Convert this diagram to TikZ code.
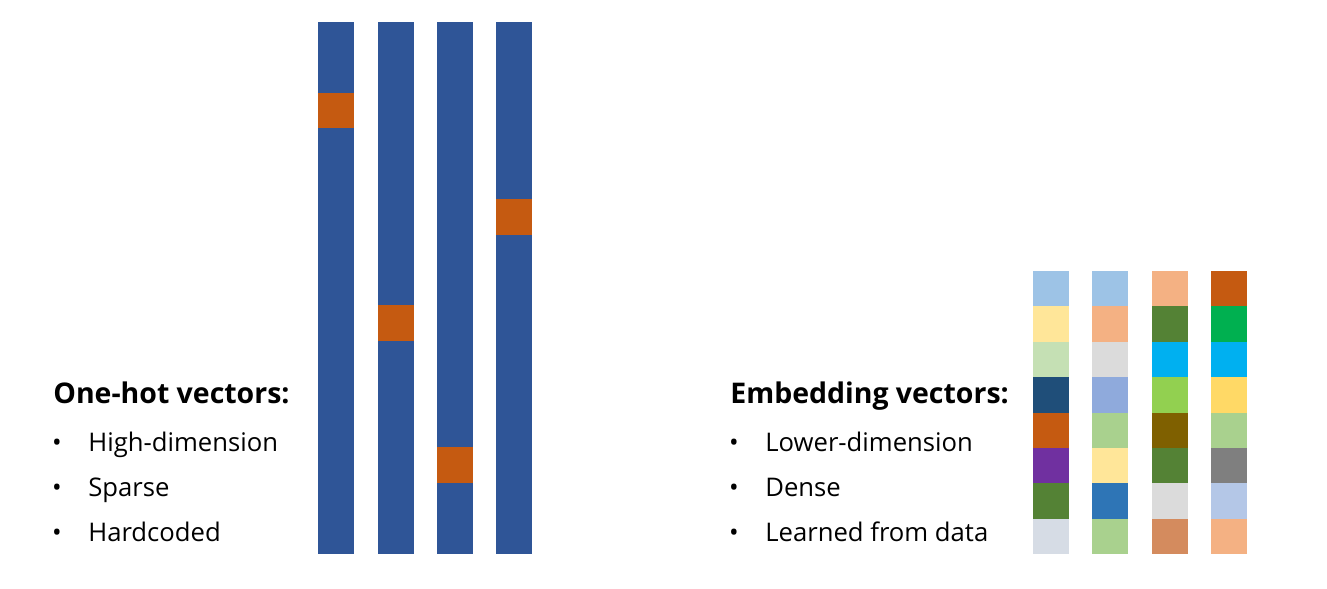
\documentclass[tikz,border=0pt]{standalone}
\usepackage{fontspec}
\setmainfont{Open Sans}
\usepackage{xcolor}
\usepackage{tikz}
\usetikzlibrary{positioning}
\definecolor{HotBlue}{HTML}{2F5597}
\definecolor{HotOrange}{HTML}{C55A11}
\definecolor{TextBlack}{HTML}{000000}

\begin{document}
\begin{tikzpicture}[x=0.02cm, y=-0.02cm,
  heading/.style={anchor=base west, inner sep=0pt, font=\bfseries\fontsize{16.2}{19}\selectfont, color=TextBlack},
  item/.style={anchor=base west, inner sep=0pt, font=\fontsize{14.6}{18}\selectfont, color=TextBlack},
  dot/.style={anchor=base, inner sep=0pt, font=\fontsize{14.6}{18}\selectfont, color=TextBlack}
]
\useasboundingbox (0,0) rectangle (1327,588);

% one-hot columns (15 cells, one of them hot)
\foreach \x/\k in {318/2, 378/8, 437/12, 496/5} {
  \fill[HotBlue] (\x,22) rectangle ++(36,531.5);
  \fill[HotOrange] (\x,22+35.43*\k) rectangle ++(36,35.43);
}

% embedding columns (8 cells each)
\foreach \x/\cells in {1033/{9DC3E6,FFE699,C5E0B4,1F4E79,C55A11,7030A0,548235,D6DCE5},
                      1092/{9DC3E6,F4B183,DBDBDB,8FAADC,A9D18E,FFE699,2E75B6,A9D18E},
                      1152/{F4B183,548235,00B0F0,92D050,7F6000,548235,DBDBDB,D48B5E},
                      1211/{C55A11,00B050,00B0F0,FFD966,A9D18E,7F7F7F,B4C7E7,F4B183}} {
  \foreach \hex [count=\r from 0] in \cells {
    \definecolor{cellcol}{HTML}{\hex}
    \fill[cellcol] (\x,271+35.4*\r) rectangle ++(36,35.4);
  }
}

% left text
\node[heading] (onehot) at (53,403) {One-hot vectors:};
\node[item] (high) at (88,451) {High-dimension};
\node[item] (sparse) at (88,496) {Sparse};
\node[item] (hard) at (88,541) {Hardcoded};
\foreach \n in {high, sparse, hard}
  \node[dot] at ([xshift=-0.62cm]\n.base west) {\textbullet};

% right text
\node[heading] (embed) at (730,403) {Embedding vectors:};
\node[item] (lower) at (765,451) {Lower-dimension};
\node[item] (dense) at (765,496) {Dense};
\node[item] (learn) at (765,541) {Learned from data};
\foreach \n in {lower, dense, learn}
  \node[dot] at ([xshift=-0.62cm]\n.base west) {\textbullet};
\end{tikzpicture}
\end{document}
